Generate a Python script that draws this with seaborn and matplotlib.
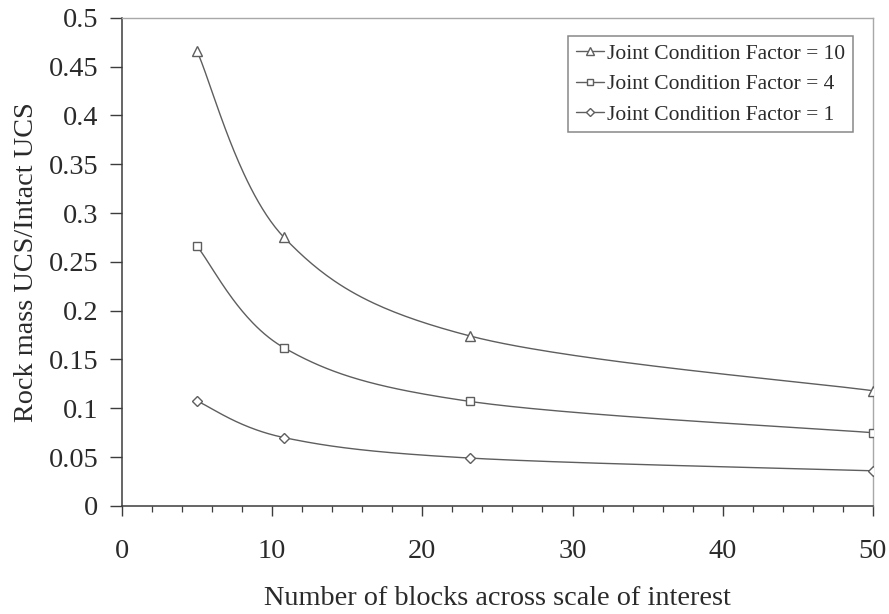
import numpy as np
import pandas as pd
import matplotlib
matplotlib.use("Agg")
import matplotlib.pyplot as plt
from matplotlib.lines import Line2D
import seaborn as sns

# Number of blocks across the scale of interest
blocks = [5, 10.8, 23.2, 50]

# Rock mass UCS / intact UCS for each joint condition factor
jcf_10 = [0.466, 0.275, 0.174, 0.118]
jcf_4 = [0.266, 0.162, 0.107, 0.075]
jcf_1 = [0.1075, 0.070, 0.049, 0.036]

series_labels = ["Joint Condition Factor = 10",
                 "Joint Condition Factor = 4",
                 "Joint Condition Factor = 1"]
series_values = [jcf_10, jcf_4, jcf_1]
series_markers = ["^", "s", "D"]
series_msize = [6.5, 6, 5]

x_ticks = [0, 10, 20, 30, 40, 50]
y_ticks = [0, 0.05, 0.1, 0.15, 0.2, 0.25, 0.3, 0.35, 0.4, 0.45, 0.5]
y_tick_labels = ["0", "0.05", "0.1", "0.15", "0.2", "0.25", "0.3",
                 "0.35", "0.4", "0.45", "0.5"]


def smooth_path(xs, ys, steps=60):
    """Cubic Bezier smoothing through every point (spreadsheet-style)."""
    pts = np.column_stack([xs, ys]).astype(float)
    n = len(pts)
    out = []
    for i in range(n - 1):
        p0 = pts[i]
        p3 = pts[i + 1]
        prev = pts[i - 1] if i > 0 else pts[i]
        nxt = pts[i + 2] if i + 2 < n else pts[i + 1]
        c1 = p0 + (p3 - prev) / 6.0
        c2 = p3 - (nxt - p0) / 6.0
        t = np.linspace(0, 1, steps)[:, None]
        seg = ((1 - t) ** 3 * p0 + 3 * (1 - t) ** 2 * t * c1
               + 3 * (1 - t) * t ** 2 * c2 + t ** 3 * p3)
        out.append(seg if i == 0 else seg[1:])
    return np.vstack(out)


sns.set_theme(style="white")
plt.rcParams["font.family"] = ["Liberation Serif", "DejaVu Serif"]

line_color = "#5e5e5e"
axis_color = "#3c3c3c"
text_color = "#2a2a2a"

fig = plt.figure(figsize=(8.89, 6.14), dpi=100)
ax = fig.add_axes([0.137, 0.176, 0.845, 0.795])

handles = []
for label, vals, mk, ms in zip(series_labels, series_values,
                               series_markers, series_msize):
    curve = smooth_path(blocks, vals)
    df_curve = pd.DataFrame({"x": curve[:, 0], "y": curve[:, 1]})
    sns.lineplot(data=df_curve, x="x", y="y", ax=ax, color=line_color,
                 linewidth=1.0, sort=False, estimator=None, legend=False)
    df_pts = pd.DataFrame({"x": blocks, "y": vals})
    ax.plot(df_pts["x"], df_pts["y"], linestyle="none", marker=mk,
            markersize=ms, markerfacecolor="white",
            markeredgecolor=line_color, markeredgewidth=1.0, zorder=3)
    handles.append(Line2D([0], [0], color=line_color, linewidth=1.0,
                          marker=mk, markersize=ms - 1,
                          markerfacecolor="white",
                          markeredgecolor=line_color, label=label))

ax.set_xlim(0, 50)
ax.set_ylim(0, 0.5)
ax.set_xticks(x_ticks)
ax.set_xticks(np.arange(0, 51, 2), minor=True)
ax.set_yticks(y_ticks)
ax.set_yticklabels(y_tick_labels)

ax.tick_params(axis="x", which="major", direction="out", length=7,
               width=1.0, color=axis_color, pad=17, labelsize=20.3,
               labelcolor=text_color, bottom=True)
ax.tick_params(axis="x", which="minor", direction="out", length=4,
               width=0.9, color=axis_color, bottom=True)
ax.tick_params(axis="y", which="major", direction="out", length=9,
               width=1.0, color=axis_color, pad=8, labelsize=20.3,
               labelcolor=text_color, left=True)

for side in ["left", "bottom"]:
    ax.spines[side].set_color(axis_color)
    ax.spines[side].set_linewidth(1.1)
for side in ["top", "right"]:
    ax.spines[side].set_visible(True)
    ax.spines[side].set_color("#a8a8a8")
    ax.spines[side].set_linewidth(1.0)

ax.set_xlabel("Number of blocks across scale of interest", fontsize=20.3,
              color=text_color, labelpad=16)
ax.set_ylabel("Rock mass UCS/Intact UCS", fontsize=20.3, color=text_color,
              labelpad=7)

leg = ax.legend(handles=handles, loc="upper right",
                bbox_to_anchor=(0.973, 0.962), fontsize=15.5,
                frameon=True, fancybox=False, handlelength=1.3,
                handletextpad=0.15, borderpad=0.35, labelspacing=0.48,
                borderaxespad=0.0)
leg.get_frame().set_edgecolor("#6a6a6a")
leg.get_frame().set_linewidth(1.1)
for t in leg.get_texts():
    t.set_color(text_color)

fig.savefig("out.png", dpi=100, facecolor="white")
